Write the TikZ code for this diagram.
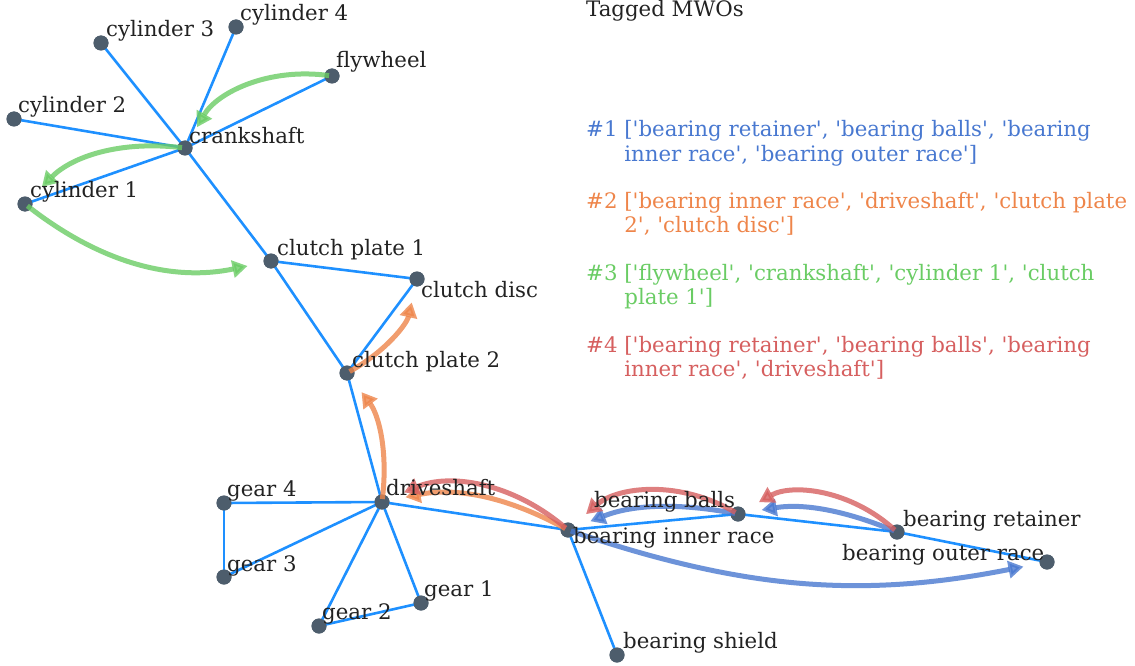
\documentclass[tikz,border=0pt]{standalone}
\usepackage{fontspec}
\setmainfont{DejaVu Serif}[Ligatures=TeXOff]
\usetikzlibrary{arrows.meta}
\definecolor{edgeblue}{HTML}{1E90FF}
\definecolor{nodegray}{HTML}{4D5D6C}
\definecolor{txt}{HTML}{222222}
\definecolor{cA}{HTML}{4878D0}
\definecolor{cB}{HTML}{EE854A}
\definecolor{cC}{HTML}{6ACC64}
\definecolor{cD}{HTML}{D65F5F}
\begin{document}
\begin{tikzpicture}[x=1pt,y=-1pt,
  vtx/.style={circle,fill=nodegray,inner sep=0pt,minimum size=15pt},
  lbl/.style={anchor=base west,inner sep=0pt,font=\fontsize{21.3}{24}\selectfont,text=txt},
  edge/.style={edgeblue,line width=2.6pt},
  mwo/.style={line width=5pt,opacity=0.8,-{Triangle[length=15pt,width=17pt]},shorten >=24pt,shorten <=3pt}]
\useasboundingbox (0,0) rectangle (1135,666);
% vertices
\node[vtx] (cyl3) at (101,43) {};
\node[vtx] (cyl4) at (236,27) {};
\node[vtx] (fly) at (332,76) {};
\node[vtx] (cyl2) at (14,119) {};
\node[vtx] (crank) at (185,148) {};
\node[vtx] (cyl1) at (25,204) {};
\node[vtx] (cp1) at (271,261) {};
\node[vtx] (disc) at (417,279) {};
\node[vtx] (cp2) at (347,373) {};
\node[vtx] (drive) at (382,502) {};
\node[vtx] (g4) at (224,503) {};
\node[vtx] (g3) at (224,577) {};
\node[vtx] (g2) at (319,626) {};
\node[vtx] (g1) at (421,603) {};
\node[vtx] (bir) at (568,530) {};
\node[vtx] (balls) at (738,514) {};
\node[vtx] (ret) at (897,532) {};
\node[vtx] (bor) at (1047,562) {};
\node[vtx] (shield) at (617,655) {};
% edges
\foreach \a/\b in {cyl3/crank,cyl4/crank,fly/crank,cyl2/crank,cyl1/crank,crank/cp1,cp1/disc,cp1/cp2,disc/cp2,cp2/drive,drive/g4,drive/g3,drive/g2,drive/g1,g4/g3,g2/g1,drive/bir,bir/balls,bir/shield,balls/ret,ret/bor}
  \draw[edge] (\a.center) -- (\b.center);
% vertices again, on top of the edges
\foreach \n in {cyl3,cyl4,fly,cyl2,crank,cyl1,cp1,disc,cp2,drive,g4,g3,g2,g1,bir,balls,ret,bor,shield}
  \fill[nodegray] (\n.center) circle (7.5pt);
% MWO arrows
\draw[mwo,cA] (ret.center) to[bend right=16] (balls.center);
\draw[mwo,cA] (balls.center) to[bend right=16] (bir.center);
\draw[mwo,cA] (bir.center) to[bend right=15] (bor.center);
\draw[mwo,cB] (bir.center) to[bend right=20] (drive.center);
\draw[mwo,cB] (drive.center) to[bend right=22] (cp2.center);
\draw[mwo,cB] (cp2.center) to[bend right=24] (disc.center);
\draw[mwo,cC] (fly.center) to[bend right=34] (crank.center);
\draw[mwo,cC] (crank.center) to[bend right=26] (cyl1.center);
\draw[mwo,cC] (cyl1.center) to[bend right=25] (cp1.center);
\draw[mwo,cD] (ret.center) to[bend right=36] (balls.center);
\draw[mwo,cD] (balls.center) to[bend right=36] (bir.center);
\draw[mwo,cD] (bir.center) to[bend right=32] (drive.center);
% labels
\node[lbl] (lcyl3) at (106,37) {cylinder 3};
\node[lbl] (lcyl4) at (240,21) {cylinder 4};
\node[lbl] (lfly) at (336,68) {flywheel};
\node[lbl] (lcyl2) at (18,113) {cylinder 2};
\node[lbl] (lcrank) at (189,143) {crankshaft};
\node[lbl] (lcyl1) at (30,197) {cylinder 1};
\node[lbl] (lcp1) at (277,255) {clutch plate 1};
\node[lbl] (ldisc) at (421,297) {clutch disc};
\node[lbl] (lcp2) at (352,367) {clutch plate 2};
\node[lbl] (ldrive) at (386,495) {driveshaft};
\node[lbl] (lg4) at (227,496) {gear 4};
\node[lbl] (lg3) at (227,571) {gear 3};
\node[lbl] (lg1) at (424,596) {gear 1};
\node[lbl] (lg2) at (322,619) {gear 2};
\node[lbl] (lballs) at (594,507) {bearing balls};
\node[lbl] (lbir) at (573,543) {bearing inner race};
\node[lbl] (lret) at (903,526) {bearing retainer};
\node[lbl] (lbor) at (842,560) {bearing outer race};
\node[lbl] (lshield) at (623,648) {bearing shield};
% legend
\node[lbl] (title) at (586,17) {Tagged MWOs};
\node[lbl,text=cA] (m1a) at (586,137) {\#1 ['bearing retainer', 'bearing balls', 'bearing};
\node[lbl,text=cA] (m1b) at (586,161) {\hphantom{\#1 }inner race', 'bearing outer race']};
\node[lbl,text=cB] (m2a) at (586,208) {\#2 ['bearing inner race', 'driveshaft', 'clutch plate};
\node[lbl,text=cB] (m2b) at (586,232) {\hphantom{\#2 }2', 'clutch disc']};
\node[lbl,text=cC] (m3a) at (586,280) {\#3 ['flywheel', 'crankshaft', 'cylinder 1', 'clutch};
\node[lbl,text=cC] (m3b) at (586,304) {\hphantom{\#3 }plate 1']};
\node[lbl,text=cD] (m4a) at (586,352) {\#4 ['bearing retainer', 'bearing balls', 'bearing};
\node[lbl,text=cD] (m4b) at (586,376) {\hphantom{\#4 }inner race', 'driveshaft']};
\end{tikzpicture}
\end{document}
